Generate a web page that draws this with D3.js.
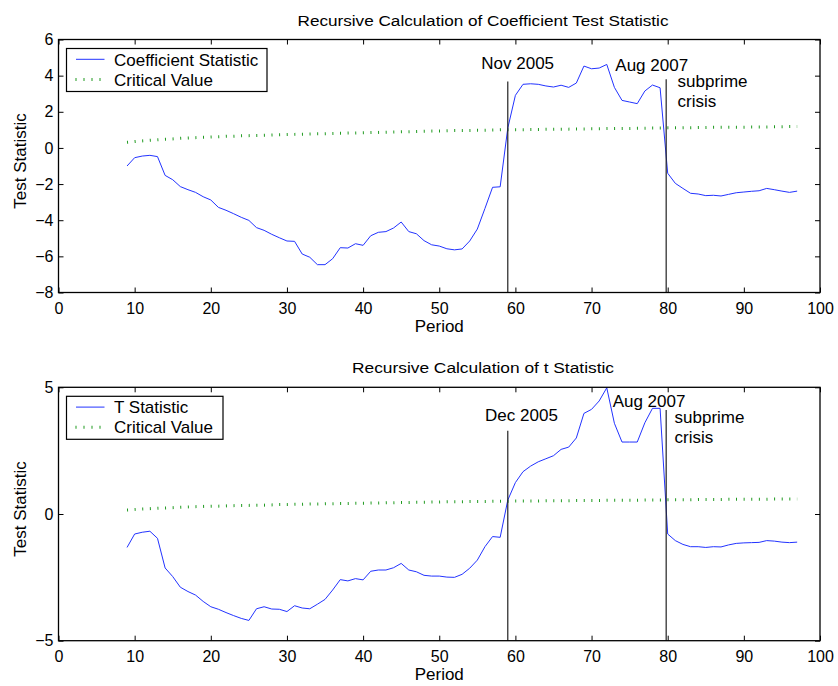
<!DOCTYPE html>
<html>
<head>
<meta charset="utf-8">
<script src="https://cdn.jsdelivr.net/npm/d3@7"></script>
<style>
  html, body { margin: 0; padding: 0; background: #fff; }
  svg { display: block; }
  text { font-family: "Liberation Sans", Arial, Helvetica, sans-serif; fill: #000; }
</style>
</head>
<body>
<svg id="chart" width="838" height="686"></svg>
<script>
// ---------------- data ----------------
const periods = d3.range(9, 98); // 9..97

const coefStat = [
  -1.00, -0.54, -0.45, -0.41, -0.48, -1.52, -1.76, -2.14, -2.31, -2.46,
  -2.70, -2.88, -3.29, -3.45, -3.64, -3.84, -4.01, -4.41, -4.56, -4.78,
  -4.97, -5.15, -5.17, -5.87, -6.05, -6.46, -6.46, -6.13, -5.52, -5.54,
  -5.30, -5.39, -4.86, -4.67, -4.63, -4.43, -4.10, -4.63, -4.75, -5.13,
  -5.36, -5.43, -5.58, -5.64, -5.59, -5.15, -4.49, -3.35, -2.18, -2.15,
   1.10,  2.91,  3.52,  3.55,  3.52,  3.43,  3.37,  3.47,  3.35,  3.59,
   4.53,  4.38,  4.42,  4.62,  3.35,  2.63,  2.54,  2.45,  3.15,  3.48,
   3.33, -1.40, -1.96, -2.24, -2.51, -2.55, -2.64, -2.62, -2.66, -2.57,
  -2.48, -2.44, -2.40, -2.37, -2.24, -2.31, -2.39, -2.46, -2.39
];

const coefCritical = [
  0.31, 0.35, 0.39, 0.42, 0.45, 0.48, 0.50, 0.53, 0.55, 0.57,
  0.59, 0.61, 0.62, 0.64, 0.65, 0.67, 0.68, 0.69, 0.70, 0.72,
  0.73, 0.74, 0.75, 0.76, 0.77, 0.78, 0.79, 0.80, 0.81, 0.82,
  0.83, 0.84, 0.85, 0.86, 0.87, 0.88, 0.89, 0.90, 0.91, 0.92,
  0.93, 0.94, 0.95, 0.96, 0.96, 0.97, 0.98, 0.98, 0.99, 1.00,
  1.00, 1.01, 1.01, 1.02, 1.02, 1.03, 1.03, 1.04, 1.04, 1.05,
  1.05, 1.06, 1.06, 1.07, 1.07, 1.08, 1.08, 1.09, 1.09, 1.10,
  1.10, 1.11, 1.11, 1.12, 1.12, 1.13, 1.13, 1.14, 1.14, 1.15,
  1.15, 1.15, 1.16, 1.16, 1.16, 1.17, 1.17, 1.18, 1.18
];

const tStat = [
  -1.32, -0.79, -0.72, -0.68, -0.96, -2.13, -2.47, -2.89, -3.06, -3.20,
  -3.45, -3.66, -3.76, -3.89, -4.01, -4.12, -4.20, -3.74, -3.66, -3.75,
  -3.76, -3.85, -3.62, -3.71, -3.74, -3.56, -3.37, -3.00, -2.59, -2.64,
  -2.55, -2.60, -2.26, -2.21, -2.21, -2.12, -1.95, -2.21, -2.28, -2.42,
  -2.45, -2.45, -2.49, -2.50, -2.38, -2.14, -1.82, -1.29, -0.89, -0.92,
   0.55,  1.24,  1.67,  1.89,  2.06,  2.18,  2.30,  2.55,  2.64,  3.00,
   3.97,  4.13,  4.46,  4.98,  3.58,  2.84,  2.84,  2.84,  3.60,  4.17,
   4.17, -0.79, -1.05, -1.20, -1.29, -1.29, -1.32, -1.29, -1.30, -1.22,
  -1.16, -1.14, -1.13, -1.12, -1.05, -1.07, -1.11, -1.13, -1.11
];

const tCritical = [
  0.16, 0.18, 0.20, 0.21, 0.23, 0.24, 0.25, 0.27, 0.28, 0.29,
  0.30, 0.31, 0.31, 0.32, 0.33, 0.34, 0.34, 0.35, 0.35, 0.36,
  0.37, 0.37, 0.38, 0.38, 0.39, 0.39, 0.40, 0.40, 0.41, 0.41,
  0.42, 0.42, 0.43, 0.43, 0.44, 0.44, 0.45, 0.45, 0.46, 0.46,
  0.47, 0.47, 0.48, 0.48, 0.48, 0.49, 0.49, 0.49, 0.50, 0.50,
  0.50, 0.51, 0.51, 0.51, 0.51, 0.52, 0.52, 0.52, 0.52, 0.53,
  0.53, 0.53, 0.53, 0.54, 0.54, 0.54, 0.54, 0.54, 0.55, 0.55,
  0.55, 0.56, 0.56, 0.56, 0.56, 0.57, 0.57, 0.57, 0.57, 0.58,
  0.58, 0.58, 0.58, 0.58, 0.58, 0.59, 0.59, 0.59, 0.59
];

const xTicks = [0, 10, 20, 30, 40, 50, 60, 70, 80, 90, 100];
const coefYTicks = [-8, -6, -4, -2, 0, 2, 4, 6];
const tYTicks = [-5, 0, 5];

// event lines: [period, top value]
const coefEvents = [[59, 3.67], [79.8, 3.8]];
const tEvents = [[59, 3.29], [79.8, 4.1]];

// annotations in data coordinates: [text, period, value, anchor]
const coefNotes = [
  ["Nov 2005", 60.3, 4.35, "middle"],
  ["Aug 2007", 77.9, 4.27, "middle"],
  ["subprime", 81.3, 3.35, "start"],
  ["crisis", 81.3, 2.25, "start"]
];
const tNotes = [
  ["Dec 2005", 60.8, 3.67, "middle"],
  ["Aug 2007", 77.55, 4.21, "middle"],
  ["subprime", 80.9, 3.60, "start"],
  ["crisis", 80.9, 2.81, "start"]
];

// ---------------- drawing ----------------
const svg = d3.select("#chart");
const BLUE = "#2233ff";
const GREEN = "#1f9a1f";

function panel(opt) {
  const left = 58.5, right = 820;
  const w = right - left, h = opt.bottom - opt.top;
  const g = svg.append("g").attr("transform", `translate(${left},${opt.top})`);
  const x = d3.scaleLinear().domain([0, 100]).range([0, w]);
  const y = d3.scaleLinear().domain(opt.yDomain).range([h, 0]);

  // title
  svg.append("text")
    .attr("x", 483).attr("y", opt.top - 14)
    .attr("text-anchor", "middle")
    .style("font-size", "15.5px")
    .attr("textLength", opt.titleLen).attr("lengthAdjust", "spacingAndGlyphs")
    .text(opt.title);

  // axes with inward ticks
  const fmt = d3.format("d");
  g.append("g").attr("transform", `translate(0,${h})`)
    .call(d3.axisBottom(x).tickValues(xTicks).tickFormat(fmt).tickSizeInner(-5).tickSizeOuter(0).tickPadding(10));
  g.append("g")
    .call(d3.axisTop(x).tickValues(xTicks).tickFormat("").tickSizeInner(-5).tickSizeOuter(0));
  g.append("g")
    .call(d3.axisLeft(y).tickValues(opt.yTicks).tickFormat(fmt).tickSizeInner(-5).tickSizeOuter(0).tickPadding(5));
  g.append("g").attr("transform", `translate(${w},0)`)
    .call(d3.axisRight(y).tickValues(opt.yTicks).tickFormat("").tickSizeInner(-5).tickSizeOuter(0));
  g.selectAll(".domain").remove();
  g.selectAll(".tick line").attr("stroke", "#000").attr("stroke-width", 1);
  g.selectAll(".tick text").style("font-size", "16px").style("font-family", '"Liberation Sans", Arial, sans-serif').attr("fill", "#000");

  // critical value (dotted)
  const line = d3.line().x((d, i) => x(periods[i])).y(d => y(d));
  g.append("path").datum(opt.crit)
    .attr("d", line)
    .attr("fill", "none").attr("stroke", GREEN)
    .attr("stroke-width", 3).attr("stroke-dasharray", "1,6.615");

  // statistic
  g.append("path").datum(opt.stat)
    .attr("d", line)
    .attr("fill", "none").attr("stroke", BLUE).attr("stroke-width", 1);

  // event lines
  g.selectAll(".evt").data(opt.events).enter().append("line")
    .attr("x1", d => x(d[0])).attr("x2", d => x(d[0]))
    .attr("y1", h).attr("y2", d => y(d[1]))
    .attr("stroke", "#222").attr("stroke-width", 1.2);

  // annotations
  g.selectAll(".note").data(opt.notes).enter().append("text")
    .attr("x", d => x(d[1])).attr("y", d => y(d[2]))
    .attr("text-anchor", d => d[3])
    .style("font-size", "17px")
    .text(d => d[0]);

  // frame
  g.append("rect").attr("x", 0).attr("y", 0).attr("width", w).attr("height", h)
    .attr("fill", "none").attr("stroke", "#000").attr("stroke-width", 1.3);

  // legend
  const lg = g.append("g").attr("transform", "translate(8,9)");
  lg.append("rect").attr("x", 0).attr("y", 0).attr("width", opt.legendW).attr("height", 43)
    .attr("fill", "#fff").attr("stroke", "#000").attr("stroke-width", 1.2);
  lg.append("line").attr("x1", 9.5).attr("x2", 38).attr("y1", 10.8).attr("y2", 10.8)
    .attr("stroke", BLUE).attr("stroke-width", 1);
  lg.append("line").attr("x1", 9).attr("x2", 38).attr("y1", 31).attr("y2", 31)
    .attr("stroke", GREEN).attr("stroke-width", 3).attr("stroke-dasharray", "1,7");
  lg.append("text").attr("x", 47.5).attr("y", 17).style("font-size", "17px").text(opt.legendLabel);
  lg.append("text").attr("x", 47.5).attr("y", 37).style("font-size", "17px").text("Critical Value");

  // axis labels
  svg.append("text")
    .attr("x", left + w / 2).attr("y", opt.bottom + 39)
    .attr("text-anchor", "middle").style("font-size", "17px").text("Period");
  svg.append("text")
    .attr("transform", `translate(26,${opt.top + h / 2 - 5}) rotate(-90)`)
    .attr("text-anchor", "middle").style("font-size", "17px").text("Test Statistic");
}

panel({
  top: 39.5, bottom: 292.5, yDomain: [-8, 6], yTicks: coefYTicks,
  stat: coefStat, crit: coefCritical, events: coefEvents, notes: coefNotes,
  title: "Recursive Calculation of Coefficient Test Statistic", titleLen: 371,
  legendLabel: "Coefficient Statistic", legendW: 200.5
});
panel({
  top: 387.3, bottom: 640.7, yDomain: [-5, 5], yTicks: tYTicks,
  stat: tStat, crit: tCritical, events: tEvents, notes: tNotes,
  title: "Recursive Calculation of t Statistic", titleLen: 262,
  legendLabel: "T Statistic", legendW: 156.5
});
</script>
</body>
</html>
